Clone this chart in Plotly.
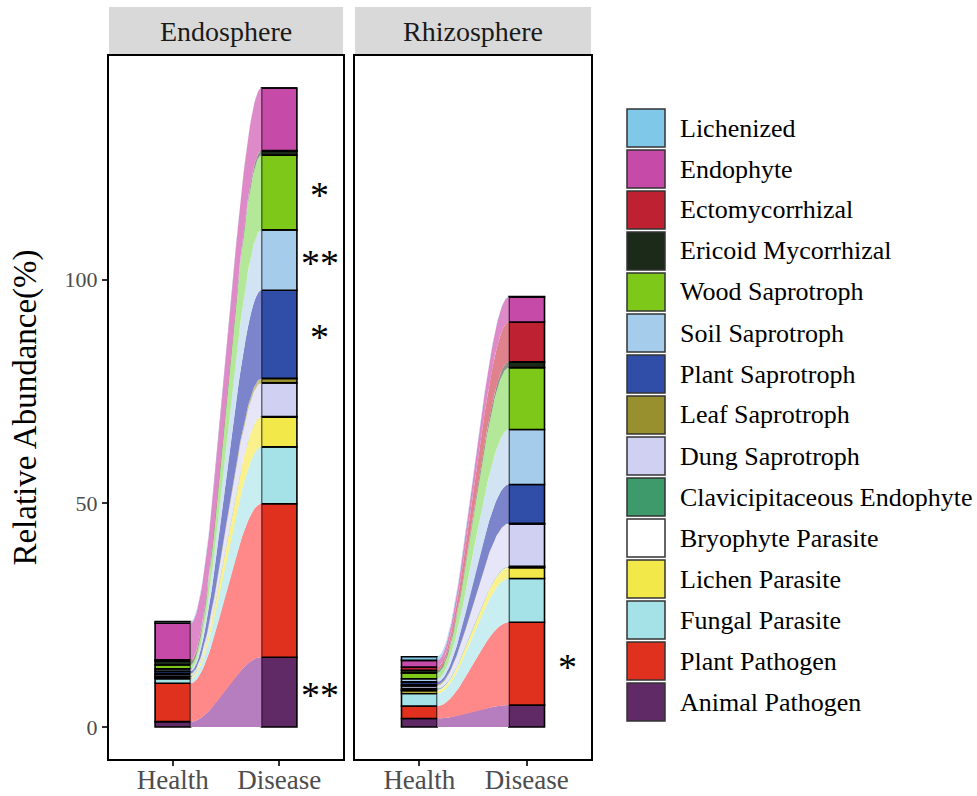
import numpy as np
import plotly.graph_objects as go

# Functional guilds, listed bottom-to-top in the stack
guilds = [
    "Animal Pathogen", "Plant Pathogen", "Fungal Parasite", "Lichen Parasite",
    "Bryophyte Parasite", "Clavicipitaceous Endophyte", "Dung Saprotroph",
    "Leaf Saprotroph", "Plant Saprotroph", "Soil Saprotroph", "Wood Saprotroph",
    "Ericoid Mycorrhizal", "Ectomycorrhizal", "Endophyte", "Lichenized",
]
colors = [
    "#602A66", "#E0301E", "#A4E2E8", "#F2E84A", "#FFFFFF", "#3E9A6A",
    "#D0D0F2", "#98902E", "#304EA8", "#A6CCEB", "#7EC81A", "#1C2A1A",
    "#BE2232", "#C64AA8", "#80C8E8",
]
# lighter tints used for the alluvial ribbons
flow_colors = [
    "#B67EBE", "#FF8888", "#C8EEF2", "#FAF08C", "#F4F4F4", "#94C8AC",
    "#E6E6F8", "#C6C08A", "#7C84CC", "#D2E4F4", "#B2E898", "#8A968A",
    "#E0828C", "#DE8AC8", "#B2DEF2",
]

groups = ["Health", "Disease"]
compartments = ["Endosphere", "Rhizosphere"]

# Relative abundance (%) per guild, same order as `guilds`
endo_health = [1.2, 8.6, 1.0, 0.3, 0.1, 0.2, 0.4, 0.2, 0.5, 0.5, 0.9, 0.8, 0.3, 8.2, 0.4]
endo_disease = [15.6, 34.3, 12.7, 6.7, 0.0, 0.1, 7.5, 1.0, 19.7, 13.5, 16.7, 0.9, 0.1, 14.0, 0.0]
rhizo_health = [1.9, 2.8, 2.8, 0.6, 0.2, 0.3, 0.6, 0.3, 0.6, 0.7, 1.3, 0.6, 0.7, 1.5, 0.8]
rhizo_disease = [4.9, 18.5, 9.8, 2.4, 0.1, 0.2, 9.5, 0.1, 8.7, 12.3, 13.8, 1.3, 8.9, 5.6, 0.1]

# Significance marks on the Disease column: (compartment, guild, label)
signif = [
    ("Endosphere", "Wood Saprotroph", "*"),
    ("Endosphere", "Soil Saprotroph", "**"),
    ("Endosphere", "Plant Saprotroph", "*"),
    ("Endosphere", "Animal Pathogen", "**"),
    ("Rhizosphere", "Plant Pathogen", "*"),
]

data = {
    "Endosphere": (endo_health, endo_disease),
    "Rhizosphere": (rhizo_health, rhizo_disease),
}

W, H = 977, 796
FONT = "Liberation Serif, Times New Roman, serif"
BAR_W = 1 / 3


def smooth(t):
    return t * t * (3 - 2 * t)


fig = go.Figure()

panel_px = [(109, 343), (355, 591)]
y_bottom_px, y_top_px = 759, 56

for pi, comp in enumerate(compartments):
    xa = "x" if pi == 0 else "x2"
    ya = "y" if pi == 0 else "y2"
    h_vals, d_vals = data[comp]
    h_cum = np.concatenate([[0], np.cumsum(h_vals)])
    d_cum = np.concatenate([[0], np.cumsum(d_vals)])

    # alluvial flows between the two strata
    x0, x1 = 1 + BAR_W / 2, 2 - BAR_W / 2
    t = np.linspace(0, 1, 80)
    xs = x0 + (x1 - x0) * t
    for i, g in enumerate(guilds):
        lo = h_cum[i] + (d_cum[i] - h_cum[i]) * smooth(t)
        hi = h_cum[i + 1] + (d_cum[i + 1] - h_cum[i + 1]) * smooth(t)
        fig.add_trace(go.Scatter(
            x=np.concatenate([xs, xs[::-1]]),
            y=np.concatenate([lo, hi[::-1]]),
            fill="toself", mode="lines", line=dict(width=0),
            fillcolor=flow_colors[i],
            hoverinfo="skip", showlegend=False, xaxis=xa, yaxis=ya,
        ))

    # stacked strata
    for i, g in enumerate(guilds):
        fig.add_trace(go.Bar(
            x=[1, 2], y=[h_vals[i], d_vals[i]], base=[h_cum[i], d_cum[i]],
            width=BAR_W, marker=dict(color=colors[i], line=dict(color="black", width=1.6)),
            name=g, showlegend=False, xaxis=xa, yaxis=ya,
        ))

    # significance asterisks at segment midpoints
    for comp_s, g, lab in signif:
        if comp_s != comp:
            continue
        i = guilds.index(g)
        mid = (d_cum[i] + d_cum[i + 1]) / 2
        fig.add_annotation(x=2.38, y=mid, xref=xa, yref=ya, text=lab,
                           showarrow=False, xanchor="center", yanchor="middle",
                           yshift=-3,
                           font=dict(family=FONT, size=38, color="black"))

    # facet strip
    l, r = panel_px[pi]
    fig.add_shape(type="rect", xref="paper", yref="paper",
                  x0=l / W, x1=r / W, y0=1 - 54 / H, y1=1 - 7 / H,
                  fillcolor="#D9D9D9", line=dict(width=0), layer="below")
    fig.add_annotation(x=(l + r) / 2 / W, y=1 - 32 / H, xref="paper", yref="paper",
                       text=comp, showarrow=False, xanchor="center", yanchor="middle",
                       font=dict(family=FONT, size=28, color="#1A1A1A"))

axis_common = dict(
    showline=True, linecolor="black", linewidth=2, mirror=True,
    showgrid=False, zeroline=False, automargin=False,
)
xa_common = dict(
    axis_common, range=[0.4, 2.6], tickvals=[1, 2], ticktext=groups,
    ticks="outside", ticklen=5, tickwidth=2, tickcolor="#333333",
    ticklabelstandoff=-9,
    tickfont=dict(family=FONT, size=27, color="#4D4D4D"),
)
yrange = [-7.14, 149.94]
ydom = [1 - y_bottom_px / H, 1 - y_top_px / H]

fig.update_layout(
    width=W, height=H, margin=dict(l=0, r=0, t=0, b=0, autoexpand=False),
    paper_bgcolor="white", plot_bgcolor="white", barmode="overlay",
    xaxis=dict(xa_common, domain=[panel_px[0][0] / W, panel_px[0][1] / W], anchor="y"),
    xaxis2=dict(xa_common, domain=[panel_px[1][0] / W, panel_px[1][1] / W], anchor="y2"),
    yaxis=dict(axis_common, domain=ydom, range=yrange, anchor="x",
               tickvals=[0, 50, 100], ticks="outside", ticklen=5, tickwidth=2,
               tickcolor="#333333",
               tickfont=dict(family=FONT, size=22, color="#4D4D4D"),
               title=dict(text="Relative Abundance(%)", standoff=18,
                          font=dict(family=FONT, size=33, color="black"))),
    yaxis2=dict(axis_common, domain=ydom, range=yrange, anchor="x2",
                matches="y", showticklabels=False, ticks=""),
    showlegend=False,
)

# legend: keys top-to-bottom in reverse stack order
key_x0, key_x1 = 627, 665
pitch = 41
first_center = 128
for k, i in enumerate(range(len(guilds) - 1, -1, -1)):
    cy = first_center + k * pitch
    fig.add_shape(type="rect", xref="paper", yref="paper",
                  x0=key_x0 / W, x1=key_x1 / W,
                  y0=1 - (cy + 19) / H, y1=1 - (cy - 19) / H,
                  fillcolor=colors[i], line=dict(color="#333333", width=1.5))
    fig.add_annotation(x=678 / W, y=1 - cy / H, xref="paper", yref="paper",
                       text=guilds[i], showarrow=False,
                       xanchor="left", yanchor="middle",
                       font=dict(family=FONT, size=26, color="black"))

fig.write_html("out.html")
